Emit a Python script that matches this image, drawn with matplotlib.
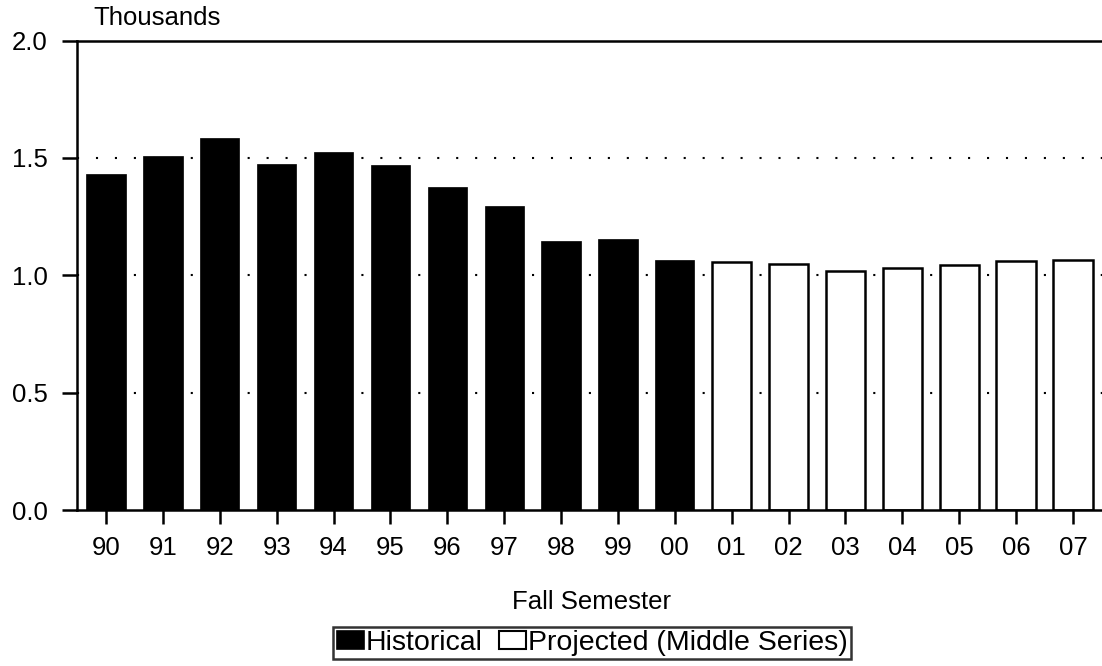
import matplotlib
matplotlib.use("Agg")
import matplotlib.pyplot as plt
from matplotlib.patches import Patch

plt.rcParams['font.family'] = ['Liberation Sans', 'DejaVu Sans']

years = ["90", "91", "92", "93", "94", "95", "96", "97", "98", "99", "00",
         "01", "02", "03", "04", "05", "06", "07"]
historical = [1.430, 1.510, 1.584, 1.472, 1.527, 1.469, 1.377, 1.294, 1.147, 1.156, 1.065]
projected = [1.056, 1.049, 1.016, 1.029, 1.042, 1.059, 1.066]
y_ticks = [0.0, 0.5, 1.0, 1.5, 2.0]
y_tick_labels = ["0.0", "0.5", "1.0", "1.5", "2.0"]

fig = plt.figure(figsize=(11.02, 6.66), dpi=100)
ax = fig.add_axes([77/1102, 1 - 510/666, 1 - 77/1102, (510 - 40.5)/666])

nh = len(historical)
xh = list(range(nh))
xp = list(range(nh, nh + len(projected)))
w = 0.69
ax.bar(xh, historical, width=w, color="black", edgecolor="black", linewidth=0.5, zorder=3)
ax.bar(xp, projected, width=w, color="white", edgecolor="black", linewidth=1.8, zorder=3)

ax.set_xlim(-0.51, len(years) - 0.49)
ax.set_ylim(0, 2.0)
ax.set_xticks(range(len(years)))
ax.set_xticklabels(years, fontsize=18.5)
ax.set_yticks(y_ticks)
ax.set_yticklabels(y_tick_labels, fontsize=18.5)

for v in [0.5, 1.0, 1.5]:
    ax.axhline(v, color="black", linewidth=1.5, linestyle=(0, (1, 8.1)), zorder=1)

ax.spines['right'].set_visible(False)
for s in ['left', 'top', 'bottom']:
    ax.spines[s].set_linewidth(1.8)
    ax.spines[s].set_zorder(4)
ax.tick_params(axis='y', length=11, width=1.8, pad=10)
ax.tick_params(axis='x', length=10, width=1.8, pad=9)

fig.text(93/1102, 1 - 18/666, "Thousands", fontsize=18.5, ha="left", va="center")
fig.text(592/1102, 1 - 602/666, "Fall Semester", fontsize=18.5, ha="center", va="center")

handles = [Patch(facecolor="black", edgecolor="black", linewidth=1.2, label="Historical"),
           Patch(facecolor="white", edgecolor="black", linewidth=1.5, label="Projected (Middle Series)")]
leg = fig.legend(handles=handles, loc="center", bbox_to_anchor=(592/1102, 1 - 643/666),
                 ncol=2, fontsize=20.5, frameon=True, fancybox=False, handlelength=0.95,
                 handleheight=0.63, handletextpad=0.05, columnspacing=0.6,
                 borderpad=0.12, borderaxespad=0)
leg.get_frame().set_edgecolor("black")
leg.get_frame().set_linewidth(1.8)

fig.savefig("out.png", dpi=100)
